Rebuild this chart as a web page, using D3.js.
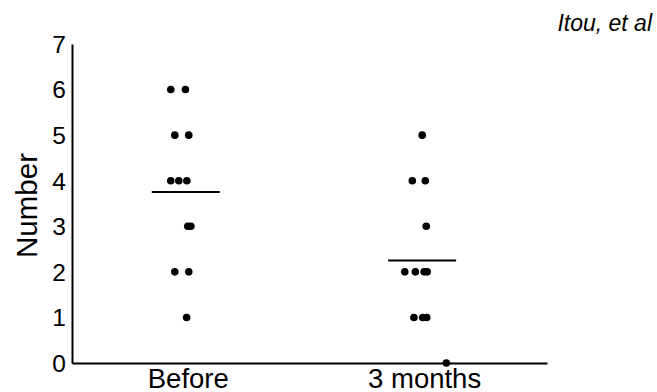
<!DOCTYPE html>
<html>
<head>
<meta charset="utf-8">
<script src="https://cdn.jsdelivr.net/npm/d3@7"></script>
<style>
  html, body { margin: 0; padding: 0; background: #fff; }
  svg { display: block; }
  text { font-family: "Liberation Sans", Arial, sans-serif; fill: #000; }
</style>
</head>
<body>
<svg id="chart" width="657" height="392"></svg>
<script>
// Groups on the x axis (position 1 and 2)
const groups = ["Before", "3 months"];
const groupPos = [1, 2];

// Individual counts per patient, with the small horizontal spread of each dot
const beforeValues = [6, 6, 5, 5, 4, 4, 4, 3, 3, 2, 2, 1];
const beforeX      = [0.928, 0.990, 0.945, 1.004, 0.928, 0.962, 0.996, 1.000, 1.013, 0.945, 1.004, 0.995];
const monthsValues = [5, 4, 4, 3, 2, 2, 2, 2, 1, 1, 1, 0];
const monthsX      = [1.992, 1.950, 2.005, 2.009, 1.918, 1.963, 2.000, 2.013, 1.957, 1.994, 2.011, 2.094];

const yTicks = [0, 1, 2, 3, 4, 5, 6, 7];

const svg = d3.select("#chart");

const x = d3.scaleLinear().domain([0.51, 2.52]).range([72, 547]);
const y = d3.scaleLinear().domain([0, 7]).range([363, 44]);

// Axes (no tick marks, just the lines and labels)
const yAxis = d3.axisLeft(y).tickValues(yTicks).tickSize(0).tickPadding(6).tickFormat(d3.format("d"));
const gy = svg.append("g").attr("transform", `translate(${x.range()[0]},0)`).call(yAxis);
gy.select(".domain").attr("stroke", "#000").attr("stroke-width", 2);
gy.selectAll("text").attr("font-size", 24.5).attr("dy", "0.34em");

const xAxis = d3.axisBottom(x).tickValues(groupPos).tickSize(0).tickPadding(5)
  .tickFormat((d, i) => groups[i]);
const gx = svg.append("g").attr("transform", `translate(0,${y.range()[0]})`).call(xAxis);
gx.select(".domain").attr("stroke", "#000").attr("stroke-width", 2);
gx.selectAll("text").attr("font-size", 27.5).attr("dy", "0.71em");

// Axis title
svg.append("text")
  .attr("transform", `translate(37,${(y(0) + y(7)) / 2 + 2}) rotate(-90)`)
  .attr("text-anchor", "middle")
  .attr("font-size", 29.5)
  .text("Number");

// Attribution
svg.append("text")
  .attr("x", 652).attr("y", 31)
  .attr("text-anchor", "end")
  .attr("font-style", "italic")
  .attr("font-size", 23)
  .text("Itou, et al");

const series = [
  { pos: groupPos[0], values: beforeValues, xs: beforeX },
  { pos: groupPos[1], values: monthsValues, xs: monthsX }
];

// Mean lines
svg.append("g").selectAll("line")
  .data(series)
  .join("line")
  .attr("x1", d => x(d.pos) - 36)
  .attr("x2", d => x(d.pos) + 32)
  .attr("y1", d => y(d3.mean(d.values)))
  .attr("y2", d => y(d3.mean(d.values)))
  .attr("stroke", "#000")
  .attr("stroke-width", 2);

// Dots
const pts = series.flatMap(s => s.values.map((v, i) => ({ v, xv: s.xs[i] })));
svg.append("g").selectAll("circle")
  .data(pts)
  .join("circle")
  .attr("cx", d => x(d.xv))
  .attr("cy", d => y(d.v))
  .attr("r", 3.8)
  .attr("fill", "#000");
</script>
</body>
</html>
